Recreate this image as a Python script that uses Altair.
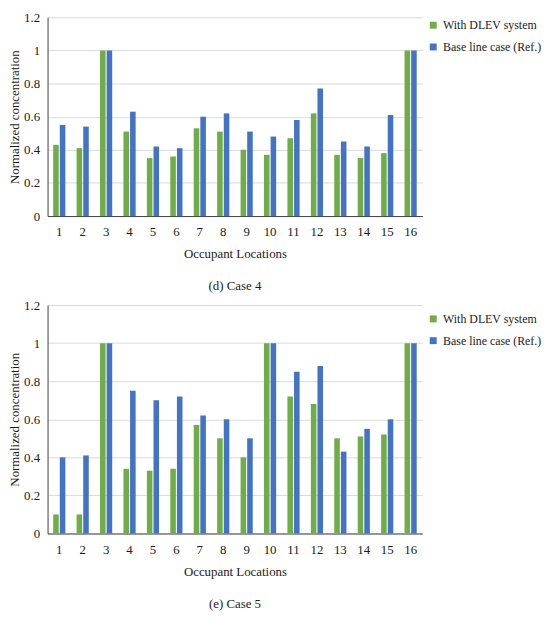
import altair as alt
import pandas as pd

locations = [str(i) for i in range(1, 17)]
series_names = ["With DLEV system", "Base line case (Ref.)"]
series_colors = ["#70AD47", "#4472C4"]

case4_dlev = [0.43, 0.41, 1.00, 0.51, 0.35, 0.36, 0.53, 0.51, 0.40, 0.37, 0.47, 0.62, 0.37, 0.35, 0.38, 1.00]
case4_base = [0.55, 0.54, 1.00, 0.63, 0.42, 0.41, 0.60, 0.62, 0.51, 0.48, 0.58, 0.77, 0.45, 0.42, 0.61, 1.00]
case5_dlev = [0.10, 0.10, 1.00, 0.34, 0.33, 0.34, 0.57, 0.50, 0.40, 1.00, 0.72, 0.68, 0.50, 0.51, 0.52, 1.00]
case5_base = [0.40, 0.41, 1.00, 0.75, 0.70, 0.72, 0.62, 0.60, 0.50, 1.00, 0.85, 0.88, 0.43, 0.55, 0.60, 1.00]

y_ticks = [0, 0.2, 0.4, 0.6, 0.8, 1.0, 1.2]

FONT = "Liberation Serif"
TXT = "#1a1a1a"


def make_df(dlev, base):
    rows = []
    for loc, d, b in zip(locations, dlev, base):
        rows.append({"loc": loc, "series": series_names[0], "value": d})
        rows.append({"loc": loc, "series": series_names[1], "value": b})
    return pd.DataFrame(rows)


def panel(df, h, caption, legend_y):
    return alt.Chart(df).mark_bar().encode(
        x=alt.X(
            "loc:N", sort=locations, title="Occupant Locations",
            scale=alt.Scale(paddingInner=0.48, paddingOuter=0.24),
            axis=alt.Axis(labelAngle=0, ticks=False, grid=False, domainColor="#404040",
                          labelPadding=10, titlePadding=9),
        ),
        xOffset=alt.XOffset("series:N", sort=series_names,
                            scale=alt.Scale(paddingInner=0.16, paddingOuter=0)),
        y=alt.Y(
            "value:Q", title="Normalized concentration",
            scale=alt.Scale(domain=[0, 1.2], nice=False),
            axis=alt.Axis(values=y_ticks, format="~g", ticks=False, domain=True,
                          domainColor="#404040", gridColor="#d9d9d9",
                          labelPadding=8, titlePadding=2),
        ),
        color=alt.Color(
            "series:N", sort=series_names,
            scale=alt.Scale(domain=series_names, range=series_colors),
            legend=alt.Legend(title=None, orient="none", legendX=384, legendY=legend_y,
                              symbolType="square", symbolSize=49, symbolStrokeWidth=0,
                              labelOffset=4, rowPadding=10, padding=0),
        ),
    ).properties(
        width=379, height=h,
        title=alt.TitleParams(caption, orient="bottom", anchor="middle", offset=20,
                              fontSize=13, fontWeight="normal", font=FONT, color=TXT),
    )


top = panel(make_df(case4_dlev, case4_base), 201, "(d) Case 4", 2)
bottom = panel(make_df(case5_dlev, case5_base), 231, "(e) Case 5", 8)

chart = alt.vconcat(top, bottom, spacing=6).resolve_scale(color="independent").resolve_legend(
    color="independent"
).configure(
    padding=0, background="white", font=FONT,
).configure_view(stroke=None).configure_axis(
    labelFont=FONT, titleFont=FONT, labelFontSize=13, titleFontSize=13,
    labelColor=TXT, titleColor=TXT, titleFontWeight="normal",
).configure_legend(labelFont=FONT, labelFontSize=12, labelColor=TXT)

chart.save("out.html", embed_options={"renderer": "svg", "actions": False})
